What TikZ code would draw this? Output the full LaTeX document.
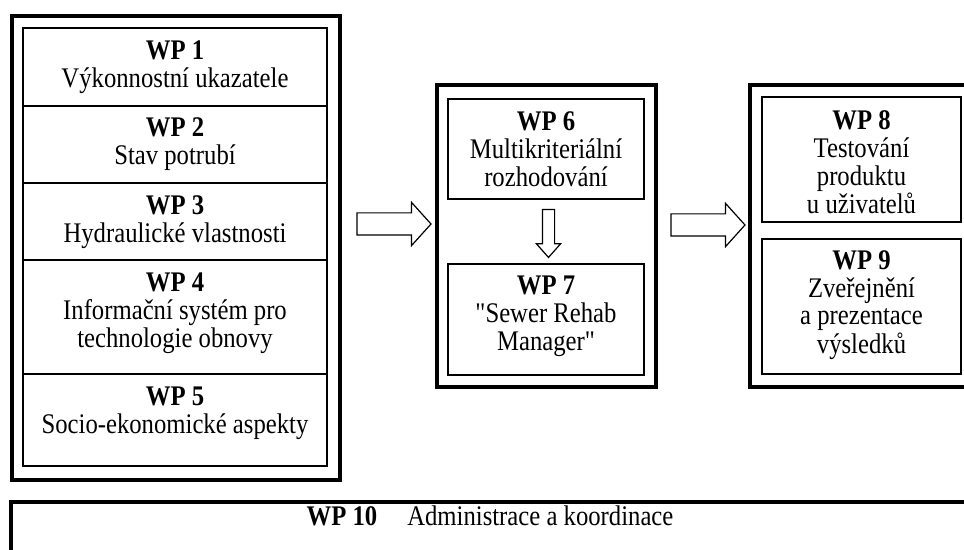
\documentclass[tikz,border=0pt]{standalone}
\usepackage{graphicx}
\usepackage{fontspec}
\setmainfont{Liberation Serif}[Ligatures=TeXOff]
\usetikzlibrary{shapes.arrows}
\newcommand{\wplines}[1]{\scalebox{1}[1.15]{\begin{tabular}{@{}c@{}}#1\end{tabular}}}

\begin{document}
\begin{tikzpicture}[x=0.5pt,y=-0.5pt,
  frame/.style={line width=2pt},
  wpbox/.style={line width=0.6pt},
  wptext/.style={inner sep=0pt,font=\fontsize{12.35}{12}\selectfont},
  blockarrow/.style={draw,line width=0.6pt,single arrow,inner xsep=0pt,inner ysep=5.25pt,
    single arrow head extend=5.25pt,single arrow tip angle=96,minimum height=37pt}]
 \useasboundingbox (0,0) rectangle (964,550);
 \clip (0,0) rectangle (964,550);

 % work packages 1-5
 \draw [frame] (12,16) rectangle (340,480);
 \draw [wpbox] (23,28) rectangle (327,466);
 \foreach \y in {106,183,260,374}
   \draw [wpbox] (23,\y) -- (327,\y);
 \node [wptext] (wp1) at (175,68) {\wplines{\textbf{WP 1}\\Výkonnostní ukazatele}};
 \node [wptext] (wp2) at (175,145) {\wplines{\textbf{WP 2}\\Stav potrubí}};
 \node [wptext] (wp3) at (175,223) {\wplines{\textbf{WP 3}\\Hydraulické vlastnosti}};
 \node [wptext] (wp4) at (175,314) {\wplines{\textbf{WP 4}\\Informační systém pro\\technologie obnovy}};
 \node [wptext] (wp5) at (175,414) {\wplines{\textbf{WP 5}\\Socio-ekonomické aspekty}};

 % work packages 6-7
 \draw [frame] (437,85) rectangle (656,387);
 \draw [wpbox] (448,99) rectangle (644,199);
 \draw [wpbox] (448,264) rectangle (644,375);
 \node [wptext] (wp6) at (546,153) {\wplines{\textbf{WP 6}\\Multikriteriální\\rozhodování}};
 \node [wptext] (wp7) at (546,317) {\wplines{\textbf{WP 7}\\"Sewer Rehab\\Manager"}};

 % work packages 8-9
 \draw [frame] (750,85) rectangle (990,387);
 \draw [wpbox] (762,97) rectangle (961,222);
 \draw [wpbox] (762,239) rectangle (961,374);
 \node [wptext] (wp8) at (861.5,166) {\wplines{\textbf{WP 8}\\Testování\\produktu\\u uživatelů}};
 \node [wptext] (wp9) at (861.5,306) {\wplines{\textbf{WP 9}\\Zveřejnění\\a prezentace\\výsledků}};

 % arrows
 \node [blockarrow] (ar1) at (389,224) {};
 \node [blockarrow] (ar2) at (703,225) {};
 \node [blockarrow,inner ysep=2.75pt,single arrow head extend=3pt,single arrow tip angle=83,
   minimum height=24pt,rotate=-90] (ar3) at (548.5,230) {};

 % work package 10
 \draw [frame] (11,502) rectangle (990,580);
 \node [wptext] (wp10) at (490,520) {\wplines{\textbf{WP 10}\hspace{15pt}Administrace a koordinace}};
\end{tikzpicture}
\end{document}
